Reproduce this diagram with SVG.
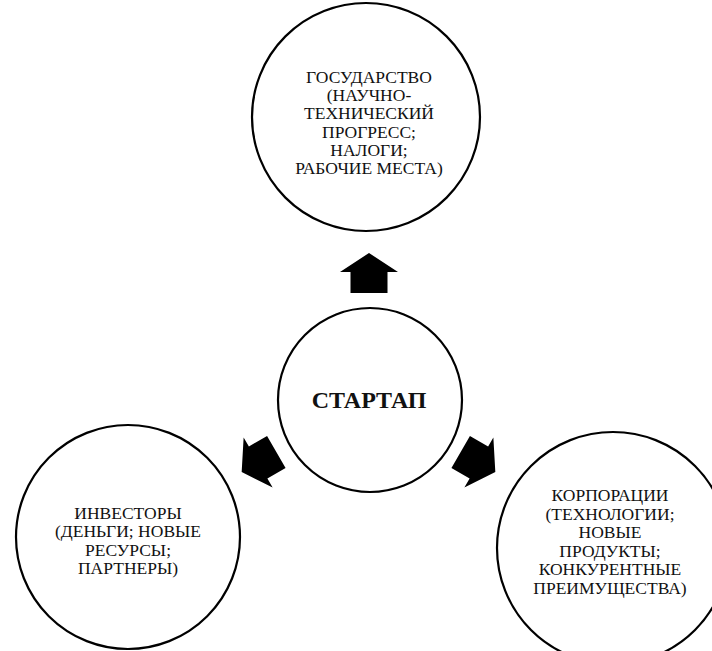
<svg xmlns="http://www.w3.org/2000/svg" width="712" height="651" viewBox="0 0 712 651">
<defs>
<style>
.node{fill:#fff;stroke:#000;stroke-width:2.2}
.t{font-family:"Liberation Serif","Times New Roman",serif;font-size:17.5px;fill:#111;text-anchor:middle}
.tb{font-family:"Liberation Serif","Times New Roman",serif;font-size:24px;font-weight:bold;fill:#111;text-anchor:middle}
.arr{fill:#000}
</style>
<path id="arrow" d="M0,-20 L29,-1 L18.5,-1 L18.5,20 L-18.5,20 L-18.5,-1 L-29,-1 Z"/>
</defs>
<rect width="712" height="651" fill="#fff"/>
<g id="connectors">
<use href="#arrow" class="arr" transform="translate(369,273)"/>
<use href="#arrow" class="arr" transform="translate(259,462) rotate(-120)"/>
<use href="#arrow" class="arr" transform="translate(478,462) rotate(120)"/>
</g>
<g id="gosudarstvo">
<circle class="node" cx="366" cy="117" r="114"/>
<text class="t"><tspan x="369" y="83">ГОСУДАРСТВО</tspan><tspan x="369" y="101.2">(НАУЧНО-</tspan><tspan x="369" y="119.4">ТЕХНИЧЕСКИЙ</tspan><tspan x="369" y="137.6">ПРОГРЕСС;</tspan><tspan x="369" y="155.8">НАЛОГИ;</tspan><tspan x="369" y="174">РАБОЧИЕ МЕСТА)</tspan></text>
</g>
<g id="startap">
<circle class="node" cx="370" cy="400" r="92"/>
<text class="tb" x="369" y="408">СТАРТАП</text>
</g>
<g id="investory">
<circle class="node" cx="128" cy="537" r="112"/>
<text class="t"><tspan x="128" y="519">ИНВЕСТОРЫ</tspan><tspan x="128" y="537.3">(ДЕНЬГИ; НОВЫЕ</tspan><tspan x="128" y="555.6">РЕСУРСЫ;</tspan><tspan x="128" y="574">ПАРТНЕРЫ)</tspan></text>
</g>
<g id="korporacii">
<circle class="node" cx="613" cy="548" r="116"/>
<text class="t"><tspan x="610" y="501">КОРПОРАЦИИ</tspan><tspan x="610" y="519.5">(ТЕХНОЛОГИИ;</tspan><tspan x="610" y="538">НОВЫЕ</tspan><tspan x="610" y="556.5">ПРОДУКТЫ;</tspan><tspan x="610" y="575">КОНКУРЕНТНЫЕ</tspan><tspan x="610" y="593.5">ПРЕИМУЩЕСТВА)</tspan></text>
</g>
</svg>
